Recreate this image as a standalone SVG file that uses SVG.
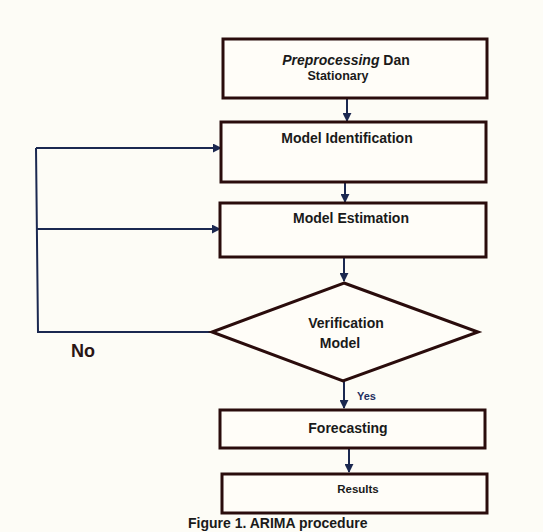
<svg xmlns="http://www.w3.org/2000/svg" width="543" height="532" viewBox="0 0 543 532">
<defs>
<marker id="ah" viewBox="0 0 10 10" refX="9" refY="5" markerWidth="4.5" markerHeight="4.5" orient="auto-start-reverse" markerUnits="strokeWidth">
<path d="M0,0 L10,5 L0,10 z" fill="#1b2850"/>
</marker>
<style>
.box{fill:#fffdf8;stroke:#2a0c0c;stroke-width:3}
.t{font-family:"Liberation Sans",Arial,sans-serif;font-weight:bold;fill:#1a1a1a;text-anchor:middle}
.c{fill:none;stroke:#1b2850;stroke-width:2}
.a{marker-end:url(#ah)}
</style>
</defs>
<rect width="543" height="532" fill="#fdfcf6"/>
<g id="connectors">
<line class="c a" x1="347" y1="98" x2="347" y2="121"/>
<line class="c a" x1="345" y1="182" x2="345" y2="202"/>
<line class="c a" x1="344" y1="257" x2="344" y2="281"/>
<line class="c a" x1="344" y1="381" x2="344" y2="408"/>
<line class="c a" x1="349" y1="442" x2="349" y2="472"/>
<polyline class="c" points="212,332 38,332 36,148"/>
<line class="c a" x1="36" y1="148" x2="221" y2="148"/>
<line class="c a" x1="37" y1="229" x2="220" y2="229"/>
<text x="357" y="400" style="font-family:'Liberation Sans',Arial,sans-serif;font-weight:bold;font-size:11px;fill:#1f2f5f">Yes</text>
<text x="71" y="357" style="font-family:'Liberation Sans',Arial,sans-serif;font-weight:bold;font-size:18px;fill:#2a1515">No</text>
</g>
<g id="preprocessing">
<rect class="box" x="223" y="39" width="264" height="59"/>
<text class="t" x="346" y="65" font-size="14"><tspan font-style="italic">Preprocessing</tspan> Dan</text>
<text class="t" x="338" y="80" font-size="12.5">Stationary</text>
</g>
<g id="identification">
<rect class="box" x="221" y="122" width="265" height="60"/>
<text class="t" x="347" y="143" font-size="14">Model Identification</text>
</g>
<g id="estimation">
<rect class="box" x="220" y="203" width="266" height="54"/>
<text class="t" x="351" y="223" font-size="14">Model Estimation</text>
</g>
<g id="verification">
<polygon points="344,283 478,332 343,381 212,332" fill="#fffdf8" stroke="#2a0c0c" stroke-width="3" stroke-linejoin="miter"/>
<text class="t" x="346" y="328" font-size="14">Verification</text>
<text class="t" x="340" y="348" font-size="14">Model</text>
</g>
<g id="forecasting">
<rect class="box" x="220" y="410" width="265" height="38"/>
<text class="t" x="348" y="433" font-size="14">Forecasting</text>
</g>
<g id="results">
<rect class="box" x="222" y="474" width="265" height="39"/>
<text class="t" x="358" y="493" font-size="11.5">Results</text>
</g>
<text x="188" y="528" style="font-family:'Liberation Sans',Arial,sans-serif;font-weight:bold;font-size:14px;fill:#1a1a1a">Figure 1. ARIMA procedure</text>
</svg>
